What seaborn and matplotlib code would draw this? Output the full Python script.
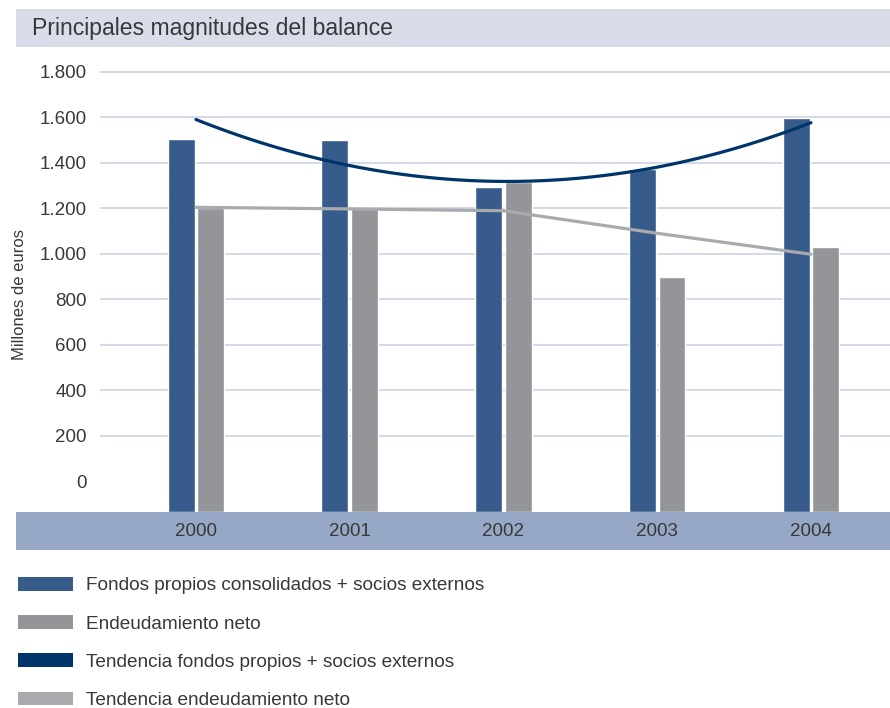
import numpy as np
import pandas as pd
import matplotlib
matplotlib.use("Agg")
import matplotlib.pyplot as plt
from matplotlib.patches import Rectangle, Patch
import seaborn as sns

# --- data (millones de euros) ---
years = ["2000", "2001", "2002", "2003", "2004"]
fondos_propios = [1505, 1500, 1295, 1372, 1597]
endeudamiento = [1200, 1200, 1315, 898, 1030]
tendencia_fondos = [1585, 1397, 1317, 1372, 1580]
tendencia_endeudamiento = [1204, 1197, 1189, 1090, 998]
y_ticks = [0, 200, 400, 600, 800, 1000, 1200, 1400, 1600, 1800]
y_tick_labels = ["0", "200", "400", "600", "800", "1.000", "1.200", "1.400", "1.600", "1.800"]

serie_fondos = "Fondos propios consolidados + socios externos"
serie_endeud = "Endeudamiento neto"
serie_tend_fondos = "Tendencia fondos propios + socios externos"
serie_tend_endeud = "Tendencia endeudamiento neto"

# --- colours ---
c_fondos = "#375b8b"
c_endeud = "#939599"
c_tend_fondos = "#00356b"
c_tend_endeud = "#a9aaad"
c_grid = "#c9d0e2"
c_title_band = "#d9dde9"
c_axis_band = "#96a8c6"
c_text = "#383838"

sns.set_theme(style="white")
plt.rcParams["font.family"] = ["Liberation Sans", "DejaVu Sans"]
plt.rcParams["text.color"] = c_text

W, H = 890, 708
fig = plt.figure(figsize=(W / 100, H / 100), dpi=100)

# axes area in pixel terms converted to figure fractions
ax_left, ax_right, ax_top, ax_bottom = 100, 890, 60, 512
ax = fig.add_axes([ax_left / W, 1 - ax_bottom / H,
                   (ax_right - ax_left) / W, (ax_bottom - ax_top) / H])
ax.set_facecolor("none")

# header band with title
fig.add_artist(Rectangle((16 / W, 1 - 47 / H), 1 - 16 / W, 38 / H,
                         transform=fig.transFigure, color=c_title_band,
                         zorder=0, lw=0))
fig.text(32 / W, 1 - 28.5 / H, "Principales magnitudes del balance",
         fontsize=16.6, color=c_text, va="center", ha="left")

# category band under the plot
fig.add_artist(Rectangle((16 / W, 1 - 550 / H), 1 - 16 / W, 38 / H,
                         transform=fig.transFigure, color=c_axis_band,
                         zorder=0, lw=0))

df = pd.DataFrame({
    "Año": years * 2,
    "Serie": [serie_fondos] * len(years) + [serie_endeud] * len(years),
    "Valor": fondos_propios + endeudamiento,
})

sns.barplot(data=df, x="Año", y="Valor", hue="Serie",
            palette=[c_fondos, c_endeud], saturation=1,
            width=0.385, gap=0.09, legend=False, ax=ax, zorder=2)

pos = np.arange(len(years))
sns.lineplot(x=pos, y=tendencia_endeudamiento, color=c_tend_endeud,
             lw=2.3, ax=ax, zorder=4)
sns.regplot(x=pos, y=tendencia_fondos, order=2, ci=None, scatter=False,
            truncate=True, color=c_tend_fondos,
            line_kws=dict(lw=2.3, zorder=5), ax=ax)

y_floor, y_ceil = -134, 1851
ax.set_ylim(y_floor, y_ceil)
ax.set_xlim(-0.624, 4.514)

# bars rise from the bottom edge of the plotting area
for p in ax.patches:
    top = p.get_y() + p.get_height()
    p.set_y(y_floor)
    p.set_height(top - y_floor)

ax.set_yticks(y_ticks)
ax.set_yticklabels(y_tick_labels)
ax.grid(axis="y", color=c_grid, lw=1.1, zorder=0)
ax.yaxis.get_gridlines()[0].set_visible(False)
ax.grid(axis="x", visible=False)
ax.set_axisbelow(True)
for s in ax.spines.values():
    s.set_visible(False)

ax.tick_params(axis="y", length=0, pad=9.5, labelsize=13.5, labelcolor=c_text)
ax.tick_params(axis="x", length=0, pad=8, labelsize=13.5, labelcolor=c_text)
ax.set_xlabel("")
ax.set_ylabel("Millones de euros", fontsize=12, color=c_text)
ax.yaxis.set_label_coords((27 - ax_left) / (ax_right - ax_left),
                          (ax_bottom - 294) / (ax_bottom - ax_top))

handles = [Patch(facecolor=c, edgecolor="none", label=l) for c, l in [
    (c_fondos, serie_fondos),
    (c_endeud, serie_endeud),
    (c_tend_fondos, serie_tend_fondos),
    (c_tend_endeud, serie_tend_endeud),
]]
fig.legend(handles=handles, loc="upper left", bbox_to_anchor=(18 / W, 1 - 577 / H),
           frameon=False, fontsize=13.7, handlelength=2.9, handleheight=0.72,
           handletextpad=0.65, labelspacing=1.09, borderpad=0, borderaxespad=0,
           labelcolor=c_text)

fig.savefig("out.png", dpi=100)
